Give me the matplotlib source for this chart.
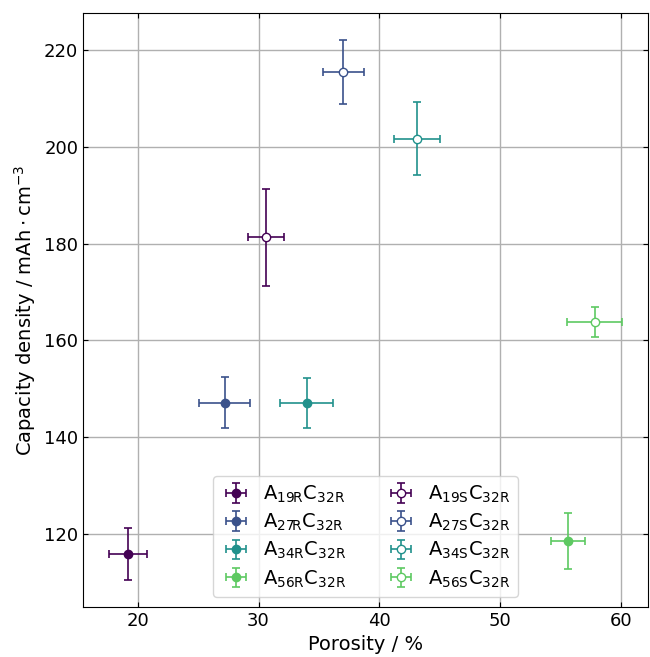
import matplotlib
matplotlib.use("Agg")
import matplotlib.pyplot as plt
import numpy as np

plt.rcParams["font.size"] = 14

# Anode samples (R = regular, S = structured), all with C32R cathode
labels_r = [r"A$_{\mathrm{19R}}$C$_{\mathrm{32R}}$", r"A$_{\mathrm{27R}}$C$_{\mathrm{32R}}$",
            r"A$_{\mathrm{34R}}$C$_{\mathrm{32R}}$", r"A$_{\mathrm{56R}}$C$_{\mathrm{32R}}$"]
labels_s = [r"A$_{\mathrm{19S}}$C$_{\mathrm{32R}}$", r"A$_{\mathrm{27S}}$C$_{\mathrm{32R}}$",
            r"A$_{\mathrm{34S}}$C$_{\mathrm{32R}}$", r"A$_{\mathrm{56S}}$C$_{\mathrm{32R}}$"]

porosity_r = [19.2, 27.2, 34.0, 55.6]
porosity_r_err = [1.6, 2.1, 2.2, 1.4]
capacity_r = [115.8, 147.1, 147.0, 118.5]
capacity_r_err = [5.4, 5.3, 5.2, 5.8]

porosity_s = [30.6, 37.0, 43.1, 57.8]
porosity_s_err = [1.5, 1.7, 1.9, 2.3]
capacity_s = [181.3, 215.5, 201.7, 163.8]
capacity_s_err = [10.0, 6.6, 7.6, 3.1]

colors = [plt.cm.viridis(v) for v in (0.0, 0.25, 0.5, 0.75)]

fig = plt.figure(figsize=(6.5, 6.57), dpi=100)
ax = fig.add_axes([83 / 650, 1 - 607 / 657, (648 - 83) / 650, (607 - 13) / 657])

for i in range(4):
    ax.errorbar(porosity_r[i], capacity_r[i], xerr=porosity_r_err[i], yerr=capacity_r_err[i],
                fmt="o", color=colors[i], markersize=6, capsize=3, elinewidth=1.2,
                capthick=1.2, label=labels_r[i])
for i in range(4):
    ax.errorbar(porosity_s[i], capacity_s[i], xerr=porosity_s_err[i], yerr=capacity_s_err[i],
                fmt="o", color=colors[i], markerfacecolor="white", markeredgecolor=colors[i],
                markersize=6, capsize=3, elinewidth=1.2, capthick=1.2, label=labels_s[i])

ax.set_xlabel("Porosity / %")
ax.set_ylabel(r"Capacity density / $\mathrm{mAh\cdot cm^{-3}}$")
ax.grid(True, color="#b0b0b0", linewidth=1)
ax.set_axisbelow(True)
ax.tick_params(direction="in", top=True, right=True, labelsize=13)
ax.legend(ncol=2, loc="lower center", fontsize=14, labelspacing=0.35,
          handlelength=1.6, handletextpad=0.6)

fig.savefig("out.png", dpi=100)
